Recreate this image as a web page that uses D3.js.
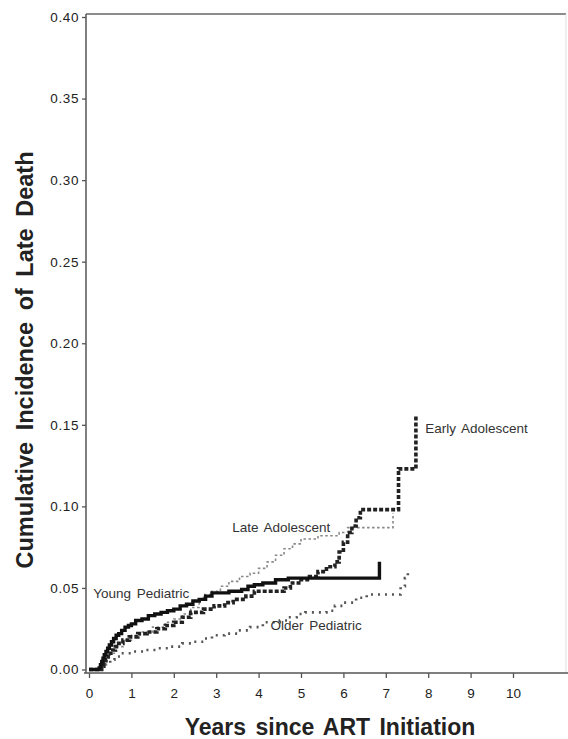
<!DOCTYPE html>
<html>
<head>
<meta charset="utf-8">
<script src="https://cdn.jsdelivr.net/npm/d3@7"></script>
<style>
  html, body { margin: 0; padding: 0; background: #fff; }
  svg { display: block; }
  text { font-family: "Liberation Sans", Arial, Helvetica, sans-serif; }
</style>
</head>
<body>
<svg id="chart" width="568" height="739"></svg>
<script>
// Cumulative incidence of late death by age group at ART start (step curves).
const youngPediatric = [
  [0, 0], [0.24, 0.001], [0.27, 0.003], [0.3, 0.005], [0.33, 0.007], [0.36, 0.009],
  [0.4, 0.011], [0.44, 0.013], [0.48, 0.015], [0.53, 0.017], [0.58, 0.019],
  [0.64, 0.021], [0.7, 0.022], [0.77, 0.024], [0.85, 0.026], [0.93, 0.027],
  [1.0, 0.028], [1.1, 0.030], [1.25, 0.031], [1.4, 0.033], [1.55, 0.034],
  [1.7, 0.035], [1.85, 0.036], [2.0, 0.037], [2.15, 0.039], [2.3, 0.040],
  [2.45, 0.042], [2.6, 0.043], [2.75, 0.045], [2.9, 0.047], [3.3, 0.048],
  [3.6, 0.049], [3.75, 0.051], [3.9, 0.052], [4.1, 0.053], [4.4, 0.055],
  [4.7, 0.056], [6.85, 0.066]
];
const earlyAdolescent = [
  [0, 0], [0.3, 0.002], [0.35, 0.004], [0.4, 0.006], [0.45, 0.008], [0.5, 0.010],
  [0.56, 0.012], [0.62, 0.014], [0.7, 0.016], [0.8, 0.018], [0.95, 0.020],
  [1.15, 0.022], [1.37, 0.023], [1.6, 0.025], [1.8, 0.027], [2.0, 0.029],
  [2.2, 0.032], [2.4, 0.035], [2.7, 0.037], [2.95, 0.039], [3.2, 0.041],
  [3.4, 0.043], [3.7, 0.045], [3.9, 0.048], [4.6, 0.050], [4.75, 0.053],
  [5.0, 0.055], [5.2, 0.057], [5.4, 0.060], [5.6, 0.063], [5.8, 0.066],
  [5.9, 0.072], [6.0, 0.078], [6.1, 0.084], [6.2, 0.088], [6.3, 0.093],
  [6.4, 0.098], [7.3, 0.123], [7.71, 0.156]
];
const lateAdolescent = [
  [0, 0], [0.3, 0.003], [0.4, 0.007], [0.5, 0.010], [0.65, 0.014], [0.8, 0.018],
  [1.0, 0.021], [1.2, 0.023], [1.5, 0.026], [1.8, 0.029], [2.0, 0.031],
  [2.2, 0.034], [2.4, 0.038], [2.6, 0.043], [2.7, 0.046], [2.9, 0.048],
  [3.1, 0.051], [3.3, 0.054], [3.55, 0.057], [3.8, 0.059], [4.0, 0.062],
  [4.2, 0.066], [4.4, 0.070], [4.6, 0.074], [4.8, 0.077], [5.0, 0.080],
  [5.4, 0.082], [5.9, 0.084], [6.1, 0.087], [7.17, 0.096]
];
const olderPediatric = [
  [0, 0], [0.3, 0.002], [0.4, 0.004], [0.5, 0.006], [0.6, 0.008], [0.75, 0.010],
  [1.0, 0.011], [1.3, 0.012], [1.6, 0.013], [1.9, 0.014], [2.2, 0.016],
  [2.45, 0.017], [2.7, 0.019], [2.9, 0.021], [3.2, 0.022], [3.5, 0.024],
  [3.8, 0.026], [4.1, 0.029], [4.5, 0.030], [4.7, 0.032], [4.9, 0.034],
  [5.1, 0.035], [5.6, 0.036], [5.8, 0.039], [6.0, 0.041], [6.3, 0.044],
  [6.55, 0.046], [7.35, 0.051], [7.45, 0.056], [7.52, 0.062]
];

const xTicks = [0, 1, 2, 3, 4, 5, 6, 7, 8, 9, 10];
const yTicks = [0.00, 0.05, 0.10, 0.15, 0.20, 0.25, 0.30, 0.35, 0.40];

const curveLabels = [
  { text: "Young Pediatric", x: 0.1, y: 0.044 },
  { text: "Late Adolescent", x: 3.38, y: 0.084 },
  { text: "Older Pediatric", x: 4.28, y: 0.024 },
  { text: "Early Adolescent", x: 7.93, y: 0.145 }
];

const svg = d3.select("#chart");
const frame = { left: 86, right: 566, top: 14, bottom: 673 };

const x = d3.scaleLinear().domain([0, 10]).range([89, 513]);
const y = d3.scaleLinear().domain([0, 0.40]).range([669.5, 17]);

// Frame: top and right edges
svg.append("line").attr("x1", frame.left).attr("x2", frame.right)
  .attr("y1", frame.top).attr("y2", frame.top)
  .attr("stroke", "#666").attr("stroke-width", 1.3);
svg.append("line").attr("x1", frame.right).attr("x2", frame.right)
  .attr("y1", frame.top).attr("y2", frame.bottom)
  .attr("stroke", "#ddd").attr("stroke-width", 1);

// Axis lines
svg.append("line").attr("x1", frame.left).attr("x2", frame.left)
  .attr("y1", frame.top).attr("y2", frame.bottom)
  .attr("stroke", "#555").attr("stroke-width", 1.5);
svg.append("line").attr("x1", frame.left - 2).attr("x2", 568)
  .attr("y1", frame.bottom).attr("y2", frame.bottom)
  .attr("stroke", "#555").attr("stroke-width", 1.5);

// Y axis
const yAxis = svg.append("g").attr("transform", `translate(${frame.left},0)`)
  .call(d3.axisLeft(y).tickValues(yTicks).tickFormat(d3.format(".2f")).tickSize(4).tickPadding(3));
yAxis.select(".domain").remove();
yAxis.selectAll(".tick line").attr("stroke", "#555").attr("stroke-width", 1.3);
yAxis.selectAll(".tick text").attr("fill", "#222").style("font-size", "13.5px")
  .style("letter-spacing", "0.6px");

// X axis
const xAxis = svg.append("g").attr("transform", `translate(0,${frame.bottom})`)
  .call(d3.axisBottom(x).tickValues(xTicks).tickFormat(d3.format("d")).tickSize(5).tickPadding(10));
xAxis.select(".domain").remove();
xAxis.selectAll(".tick line").attr("stroke", "#555").attr("stroke-width", 1.3);
xAxis.selectAll(".tick text").attr("fill", "#222").style("font-size", "13.5px");

// Axis titles
svg.append("text")
  .attr("x", 330).attr("y", 735)
  .attr("text-anchor", "middle")
  .attr("fill", "#222")
  .style("font-size", "23px").style("font-weight", "bold")
  .style("word-spacing", "3px")
  .text("Years since ART Initiation");

svg.append("text")
  .attr("transform", "translate(33,360) rotate(-90)")
  .attr("text-anchor", "middle")
  .attr("fill", "#222")
  .style("font-size", "23.5px").style("font-weight", "bold")
  .style("word-spacing", "5px")
  .text("Cumulative Incidence of Late Death");

// Step curves
const line = d3.line()
  .x(d => x(d[0]))
  .y(d => y(d[1]))
  .curve(d3.curveStepAfter);

const series = [
  { data: olderPediatric, stroke: "#555", width: 2.6, dash: "2,5" },
  { data: lateAdolescent, stroke: "#888", width: 1.6, dash: "2.5,2.5" },
  { data: earlyAdolescent, stroke: "#222", width: 3.6, dash: "4,2" },
  { data: youngPediatric, stroke: "#111", width: 3.4, dash: null }
];

svg.append("g").selectAll("path")
  .data(series)
  .join("path")
  .attr("d", s => line(s.data))
  .attr("fill", "none")
  .attr("stroke", s => s.stroke)
  .attr("stroke-width", s => s.width)
  .attr("stroke-dasharray", s => s.dash)
  .attr("stroke-linejoin", "miter");

// Curve labels
svg.append("g").selectAll("text")
  .data(curveLabels)
  .join("text")
  .attr("x", d => x(d.x))
  .attr("y", d => y(d.y))
  .attr("fill", "#333")
  .style("font-size", "13.5px")
  .style("word-spacing", "2px")
  .text(d => d.text);
</script>
</body>
</html>
